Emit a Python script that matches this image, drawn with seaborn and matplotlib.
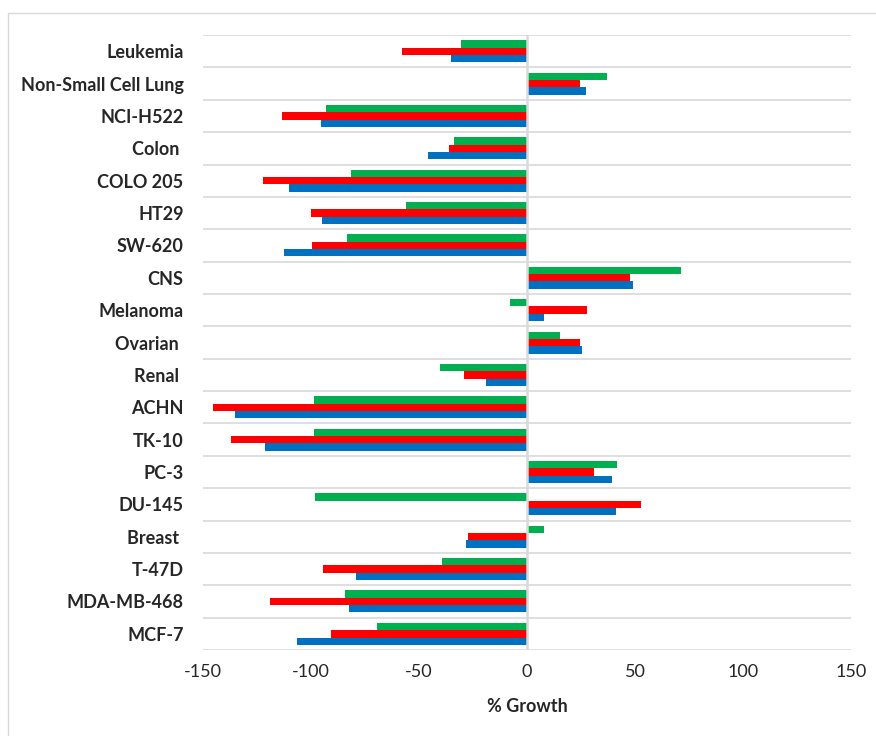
import pandas as pd
import matplotlib.pyplot as plt
import seaborn as sns
from matplotlib.patches import Rectangle

categories = ["Leukemia", "Non-Small Cell Lung", "NCI-H522", "Colon ", "COLO 205", "HT29",
              "SW-620", "CNS", "Melanoma", "Ovarian ", "Renal ", "ACHN", "TK-10", "PC-3",
              "DU-145", "Breast ", "T-47D", "MDA-MB-468", "MCF-7"]

series_names = ["Series 1", "Series 2", "Series 3"]
series_colors = ["#00B050", "#FF0000", "#0070C0"]

green_vals = [-30.7, 37.2, -93.2, -33.6, -81.5, -56.2, -83.3, 71.2, -7.7, 15.1,
              -40.3, -98.7, -98.7, 41.8, -98.1, 7.9, -39.2, -84.3, -69.4]
red_vals = [-57.7, 24.4, -113.3, -36.2, -122.4, -100.0, -99.7, 47.5, 27.9, 24.4,
            -29.3, -145.4, -137.0, 30.9, 52.8, -27.3, -94.4, -118.8, -90.6]
blue_vals = [-35.2, 27.2, -95.5, -46.0, -110.0, -94.7, -112.3, 49.1, 7.9, 25.6,
             -19.0, -135.2, -121.3, 39.4, 41.4, -28.4, -79.0, -82.5, -106.5]

df = pd.DataFrame({
    "category": categories * 3,
    "series": [series_names[0]] * len(categories) + [series_names[1]] * len(categories)
              + [series_names[2]] * len(categories),
    "value": green_vals + red_vals + blue_vals,
})

sns.set_style("white")
plt.rcParams["font.family"] = ["Lato", "DejaVu Sans"]
plt.rcParams["axes.unicode_minus"] = False

fig = plt.figure(figsize=(8.76, 7.36), dpi=100)
ax = fig.add_axes([0.2317, 0.1168, 0.7398, 0.8356])

sns.barplot(data=df, x="value", y="category", hue="series", order=categories,
            hue_order=series_names, palette=series_colors, width=0.68,
            saturation=1, linewidth=0, legend=False, ax=ax, zorder=2)

ax.set_xlim(-150, 150)
ax.set_xticks([-150, -100, -50, 0, 50, 100, 150])
ax.set_ylim(len(categories) - 0.5, -0.5)

for k in range(len(categories) + 1):
    ax.axhline(k - 0.5, color="#D9D9D9", lw=1.2, zorder=1)
ax.axvline(0, color="#D9D9D9", lw=1.8, zorder=3)

for s in ax.spines.values():
    s.set_visible(False)

ax.tick_params(axis="both", length=0)
ax.tick_params(axis="x", labelsize=13, labelcolor="#262626", pad=10)
ax.tick_params(axis="y", labelsize=13, pad=14)
for lbl in ax.get_yticklabels():
    lbl.set_fontweight("bold")

ax.set_ylabel("")
ax.set_xlabel("% Growth", fontsize=13, fontweight="bold", labelpad=13)

fig.add_artist(Rectangle((0.0091, -0.1), 1.1, 1.0823, transform=fig.transFigure,
                         fill=False, edgecolor="#D9D9D9", lw=1))

plt.savefig("out.png", dpi=100)
